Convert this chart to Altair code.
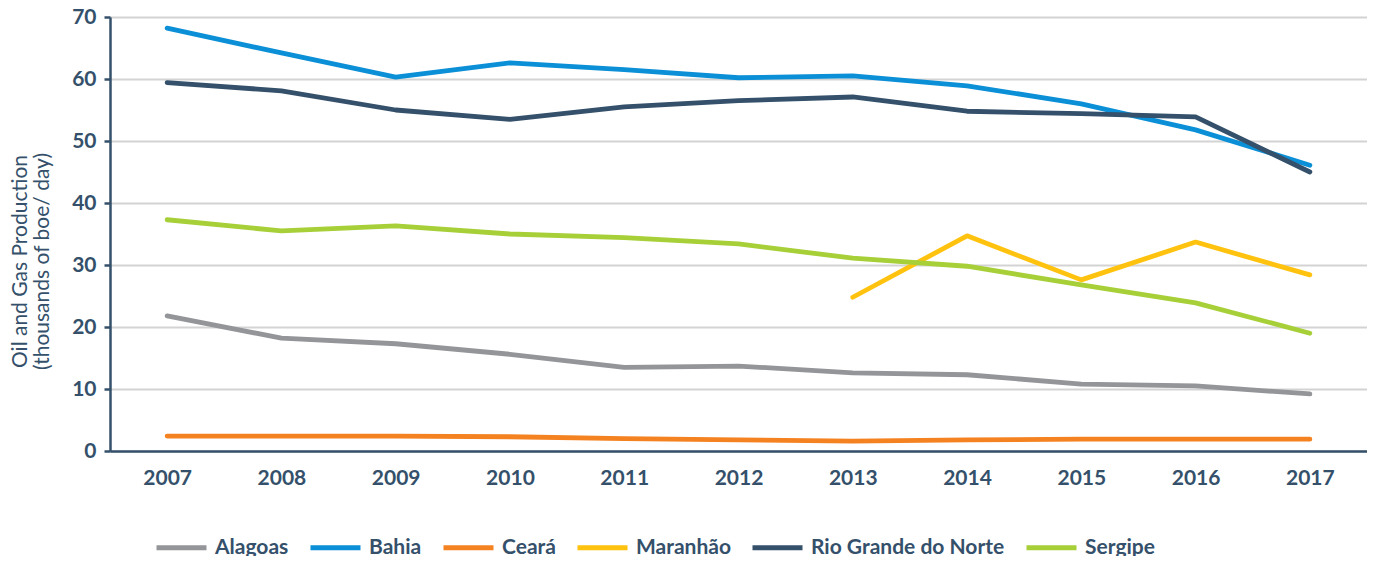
import altair as alt
import pandas as pd

years = ["2007", "2008", "2009", "2010", "2011", "2012", "2013", "2014", "2015", "2016", "2017"]
states = ["Alagoas", "Bahia", "Ceará", "Maranhão", "Rio Grande do Norte", "Sergipe"]
colors = ["#939598", "#0b8fd6", "#f58220", "#ffc20e", "#34506a", "#a6cf38"]

alagoas = [21.8, 18.2, 17.3, 15.6, 13.5, 13.7, 12.6, 12.3, 10.8, 10.5, 9.2]
bahia = [68.2, 64.2, 60.3, 62.6, 61.5, 60.2, 60.5, 58.9, 56.0, 51.8, 46.1]
ceara = [2.4, 2.4, 2.4, 2.3, 2.0, 1.8, 1.6, 1.8, 1.9, 1.9, 1.9]
maranhao = [None, None, None, None, None, None, 24.8, 34.7, 27.6, 33.7, 28.4]
rgn = [59.4, 58.1, 55.0, 53.5, 55.5, 56.5, 57.1, 54.8, 54.4, 53.9, 45.0]
sergipe = [37.3, 35.5, 36.3, 35.0, 34.4, 33.4, 31.1, 29.8, 26.8, 23.9, 19.0]

series = [alagoas, bahia, ceara, maranhao, rgn, sergipe]
rows = []
for s, vals in zip(states, series):
    for y, v in zip(years, vals):
        if v is not None:
            rows.append({"Year": y, "State": s, "Value": v})
df = pd.DataFrame(rows)

FONT = "Lato"
TXT = "#34506a"

chart = alt.Chart(df).mark_line(strokeWidth=4.8, strokeCap="round", strokeJoin="round").encode(
    x=alt.X("Year:N", sort=years,
            scale=alt.Scale(type="point", padding=0.5),
            axis=alt.Axis(title=None, labelAngle=0, ticks=False, grid=False,
                          domainColor=TXT, domainWidth=2.5, labelPadding=16,
                          labelFont=FONT, labelFontSize=21, labelFontWeight="bold",
                          labelColor=TXT)),
    y=alt.Y("Value:Q", scale=alt.Scale(domain=[0, 70], nice=False),
            axis=alt.Axis(values=[0, 10, 20, 30, 40, 50, 60, 70],
                          title=["Oil and Gas Production", "(thousands of boe/ day)"],
                          titleFont=FONT, titleFontSize=21, titleFontWeight="normal",
                          titleColor=TXT, titlePadding=19, titleY=244, titleLineHeight=22,
                          domainColor=TXT, domainWidth=2.5, tickColor=TXT, tickWidth=2.5,
                          tickSize=6, labelPadding=8,
                          labelFont=FONT, labelFontSize=21, labelFontWeight="bold",
                          labelColor=TXT, gridColor="#d3d3d3", gridWidth=2)),
    color=alt.Color("State:N", scale=alt.Scale(domain=states, range=colors),
                    legend=alt.Legend(title=None, orient="none", direction="horizontal",
                                      legendX=59, legendY=518,
                                      symbolType="M-2.5,0H2.5", symbolSize=400,
                                      symbolStrokeWidth=5, labelOffset=21, labelLimit=400,
                                      columnPadding=11, labelFont=FONT, labelFontSize=21,
                                      labelFontWeight="bold", labelColor=TXT)),
).properties(
    width=1257, height=434,
    autosize=alt.AutoSizeParams(type="none"),
    padding={"left": 102, "top": 9, "right": 0, "bottom": 105},
).configure_view(stroke=None).configure(background="white")

chart.save("out.html", embed_options={"renderer": "svg", "actions": False})
